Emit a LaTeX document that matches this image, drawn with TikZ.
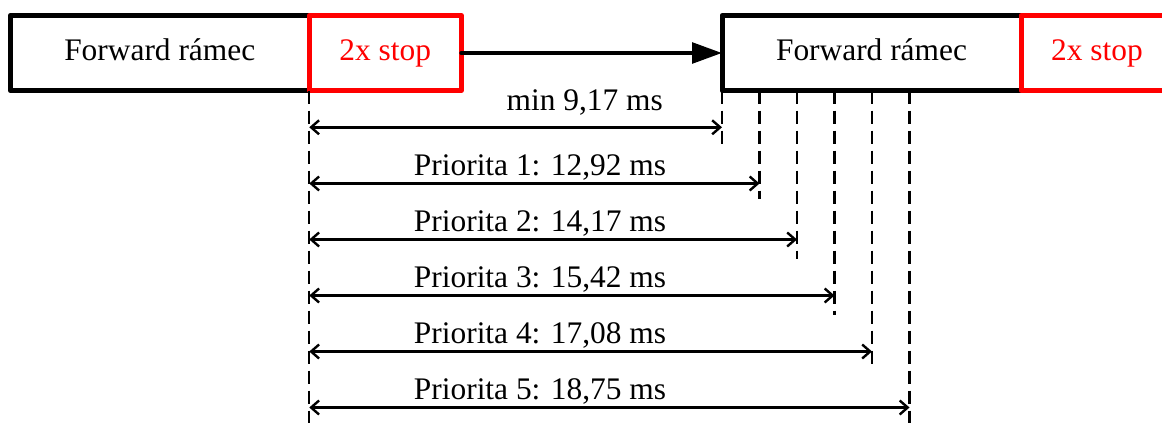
\documentclass[tikz,border=0pt]{standalone}
\usepackage{fontspec}
\setmainfont{Liberation Serif}
\usetikzlibrary{arrows.meta,positioning}

\begin{document}
\begin{tikzpicture}[x=0.5pt,y=-0.5pt,font=\fontsize{15.7}{19}\selectfont]
\tikzset{frame/.style=
            {draw,line width=2.5pt,line join=round,inner sep=0pt,outer sep=0pt,
             minimum width=149.5pt,minimum height=37.5pt,text height=0.7em,text depth=0pt},
         stopbox/.style=
            {frame,draw=red,text=red,minimum width=76pt},
         guide/.style=
            {line width=1.2pt,dash pattern=on 6.5pt off 3.5pt},
         dimline/.style=
            {line width=1.2pt,{Straight Barb[length=4pt,width=7pt]}-{Straight Barb[length=4pt,width=7pt]}},
         flow/.style=
            {line width=2pt,line cap=round,-{Triangle[length=15pt,width=10.3pt]}}}
\clip (0,0) rectangle (1162,423);
\node[frame] (rA) at (159.75,53) {Forward rámec};
\node[stopbox,right=0pt of rA] (sA) {2x stop};
\node[frame,anchor=west] (rB) at (722,53) {Forward rámec};
\node[stopbox,right=0pt of rB] (sB) {2x stop};
\draw[flow] (sA.east) -- (rB.west);
\coordinate (foot) at (0,423);
\draw[guide] (sA.south west) -- (sA.south west |- foot);
\foreach \i/\ly/\lx/\ty/\ey/\txt in {
    0/127.3/584.7/110/146.7/{min 9,17 ms},
    1/183.5/540/175/199/{Priorita 1: 12,92 ms},
    2/239.5/540/231/259/{Priorita 2: 14,17 ms},
    3/295.5/540/287/315/{Priorita 3: 15,42 ms},
    4/351.5/540/343/366/{Priorita 4: 17,08 ms},
    5/407.5/540/399/423/{Priorita 5: 18,75 ms}}
{
    \coordinate (a\i) at (sA.west |- 0,\ly);
    \coordinate (b\i) at (722+37.5*\i,\ly);
    \coordinate (e\i) at (722+37.5*\i,\ey);
    \draw[guide] (b\i |- rB.south) -- (e\i);
    \draw[dimline] (a\i) -- (b\i);
    \node[anchor=base] (l\i) at (\lx,\ty) {\txt};
}
\end{tikzpicture}
\end{document}
